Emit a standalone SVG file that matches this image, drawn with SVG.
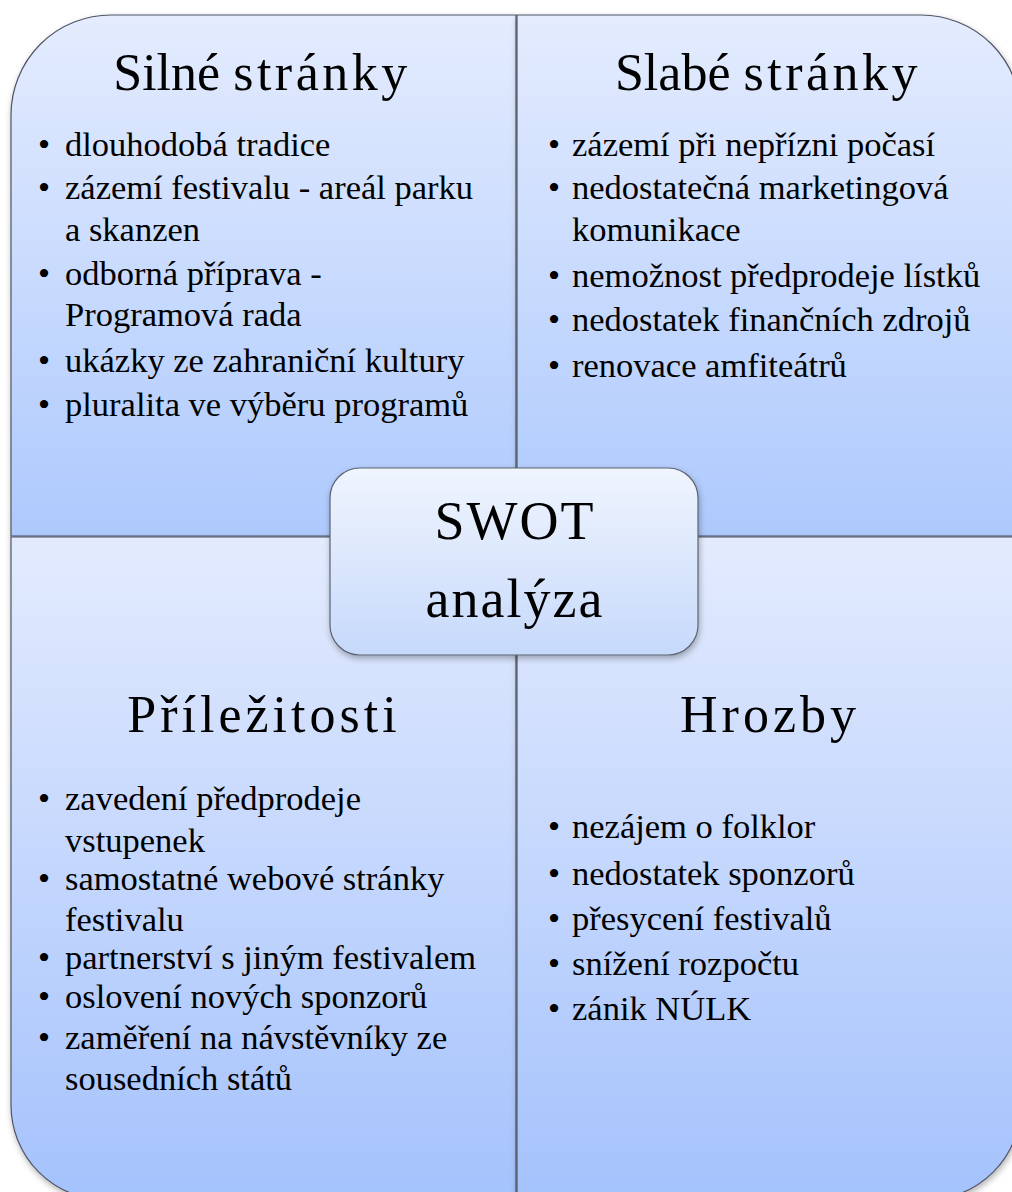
<svg xmlns="http://www.w3.org/2000/svg" width="1012" height="1192" viewBox="0 0 1012 1192">
<defs>
<linearGradient id="gq" x1="0" y1="0" x2="0" y2="1">
<stop offset="0" stop-color="#e4ecfe"/>
<stop offset="1" stop-color="#adc9fd"/>
</linearGradient>
<linearGradient id="gqb" x1="0" y1="0" x2="0" y2="1">
<stop offset="0" stop-color="#e3ebfe"/>
<stop offset="1" stop-color="#a4c2fc"/>
</linearGradient>
<linearGradient id="gc" x1="0" y1="0" x2="0" y2="1">
<stop offset="0" stop-color="#f0f5fe"/>
<stop offset="1" stop-color="#c6d9fb"/>
</linearGradient>
<filter id="sh" x="-10%" y="-10%" width="120%" height="120%">
<feDropShadow dx="1" dy="3" stdDeviation="3" flood-color="#000" flood-opacity="0.3"/>
</filter>
</defs>
<style>
.q{stroke:#4f5566;stroke-width:1.2}
.t{font-family:"Liberation Serif","Times New Roman",serif;fill:#000}
.h{font-size:52px;text-anchor:middle}
.b{font-size:34.5px}
.c{font-size:54px;text-anchor:middle;letter-spacing:2px}
</style>
<rect width="1012" height="1192" fill="#fff"/>
<g id="node-strengths">
<path class="q" fill="url(#gq)" filter="url(#sh)" d="M11,536 V115 A100,100 0 0 1 111,15 H516 V536 Z"/>
<text class="t h" x="262" y="90"><tspan>Silné </tspan><tspan letter-spacing="3.5">stránky</tspan></text>
<text class="t b" x="38" y="156">•</text><text class="t b" x="65" y="156">dlouhodobá tradice</text>
<text class="t b" x="38" y="199">•</text><text class="t b" x="65" y="199">zázemí festivalu - areál parku</text>
<text class="t b" x="65" y="241">a skanzen</text>
<text class="t b" x="38" y="285">•</text><text class="t b" x="65" y="285">odborná příprava -</text>
<text class="t b" x="65" y="326">Programová rada</text>
<text class="t b" x="38" y="372">•</text><text class="t b" x="65" y="372">ukázky ze zahraniční kultury</text>
<text class="t b" x="38" y="416">•</text><text class="t b" x="65" y="416">pluralita ve výběru programů</text>
</g>
<g id="node-weaknesses">
<path class="q" fill="url(#gq)" filter="url(#sh)" d="M517,15 H921 A100,100 0 0 1 1021,115 V536 H517 Z"/>
<text class="t h" x="768" y="90"><tspan>Slabé </tspan><tspan letter-spacing="3.5">stránky</tspan></text>
<text class="t b" x="548" y="156">•</text><text class="t b" x="572" y="156">zázemí při nepřízni počasí</text>
<text class="t b" x="548" y="199">•</text><text class="t b" x="572" y="199">nedostatečná marketingová</text>
<text class="t b" x="572" y="241">komunikace</text>
<text class="t b" x="548" y="287">•</text><text class="t b" x="572" y="287">nemožnost předprodeje lístků</text>
<text class="t b" x="548" y="331">•</text><text class="t b" x="572" y="331">nedostatek finančních zdrojů</text>
<text class="t b" x="548" y="377">•</text><text class="t b" x="572" y="377">renovace amfiteátrů</text>
</g>
<g id="node-opportunities">
<path class="q" fill="url(#gqb)" filter="url(#sh)" d="M11,537 H516 V1200 H106 A95,95 0 0 1 11,1105 Z"/>
<text class="t h" x="264" y="732" letter-spacing="4">Příležitosti</text>
<text class="t b" x="38" y="810">•</text><text class="t b" x="65" y="810">zavedení předprodeje</text>
<text class="t b" x="65" y="852">vstupenek</text>
<text class="t b" x="38" y="890">•</text><text class="t b" x="65" y="890">samostatné webové stránky</text>
<text class="t b" x="65" y="931">festivalu</text>
<text class="t b" x="38" y="969">•</text><text class="t b" x="65" y="969">partnerství s jiným festivalem</text>
<text class="t b" x="38" y="1008">•</text><text class="t b" x="65" y="1008">oslovení nových sponzorů</text>
<text class="t b" x="38" y="1049">•</text><text class="t b" x="65" y="1049">zaměření na návstěvníky ze</text>
<text class="t b" x="65" y="1090">sousedních států</text>
</g>
<g id="node-threats">
<path class="q" fill="url(#gqb)" filter="url(#sh)" d="M517,537 H1021 V1105 A95,95 0 0 1 926,1200 H517 Z"/>
<text class="t h" x="770" y="732" letter-spacing="4">Hrozby</text>
<text class="t b" x="548" y="838">•</text><text class="t b" x="572" y="838">nezájem o folklor</text>
<text class="t b" x="548" y="885">•</text><text class="t b" x="572" y="885">nedostatek sponzorů</text>
<text class="t b" x="548" y="930">•</text><text class="t b" x="572" y="930">přesycení festivalů</text>
<text class="t b" x="548" y="975">•</text><text class="t b" x="572" y="975">snížení rozpočtu</text>
<text class="t b" x="548" y="1020">•</text><text class="t b" x="572" y="1020">zánik NÚLK</text>
</g>
<g id="connectors"></g>
<g id="node-center">
<rect x="330" y="468" width="368" height="187" rx="30" ry="30" fill="url(#gc)" stroke="#5b6372" stroke-width="1.2" filter="url(#sh)"/>
<text class="t c" x="515" y="539">SWOT</text>
<text class="t c" x="515" y="617">analýza</text>
</g>
</svg>
